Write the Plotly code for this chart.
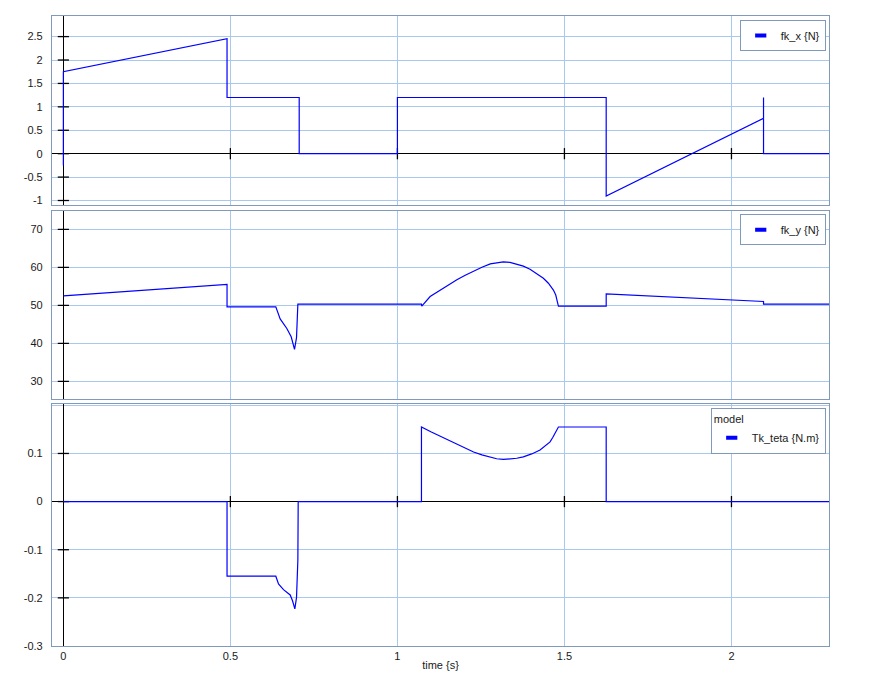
import plotly.graph_objects as go

# ---------------- data ----------------
t_fkx = [0, 0, 0.49, 0.49, 0.706, 0.706, 1.0, 1.0, 1.625, 1.625, 2.096, 2.096, 2.096, 2.3]
v_fkx = [-0.25, 1.75, 2.455, 1.2, 1.2, 0, 0, 1.2, 1.2, -0.905, 0.755, 1.2, 0, 0]

t_fky = [0, 0.49, 0.49, 0.636, 0.649, 0.669, 0.682, 0.692, 0.698, 0.702, 1.072, 1.073,
         1.098, 1.128, 1.153, 1.178, 1.203, 1.228, 1.253, 1.278, 1.297, 1.317, 1.337,
         1.357, 1.377, 1.397, 1.417, 1.437, 1.452, 1.467, 1.474, 1.480, 1.482,
         1.625, 1.625, 2.096, 2.096, 2.3]
v_fky = [52.5, 55.5, 49.6, 49.6, 46.4, 43.9, 41.7, 38.4, 41.5, 50.3, 50.3, 49.8,
         52.3, 54.0, 55.3, 56.7, 57.9, 59.0, 60.0, 60.9, 61.2, 61.4, 61.3,
         60.9, 60.3, 59.5, 58.4, 57.1, 55.8, 54.0, 52.7, 50.9, 49.8,
         49.8, 53.0, 51.0, 50.3, 50.3]

t_tk = [0, 0.49, 0.49, 0.636, 0.644, 0.659, 0.679, 0.686, 0.693, 0.698, 0.702, 0.703,
        1.072, 1.072, 1.100, 1.128, 1.153, 1.178, 1.203, 1.228, 1.253, 1.278, 1.297,
        1.317, 1.337, 1.357, 1.377, 1.402, 1.427, 1.442, 1.457, 1.465, 1.472,
        1.477, 1.482, 1.625, 1.625, 2.3]
v_tk = [0, 0, -0.155, -0.155, -0.171, -0.183, -0.194, -0.206, -0.223, -0.199, -0.122, 0,
        0, 0.155, 0.145, 0.136, 0.127, 0.119, 0.111, 0.103, 0.097, 0.092, 0.089,
        0.0875, 0.088, 0.090, 0.093, 0.099, 0.107, 0.115, 0.124, 0.133, 0.142,
        0.150, 0.155, 0.155, 0, 0]

x_ticks = [0, 0.5, 1, 1.5, 2]
x_ticklabels = ["0", "0.5", "1", "1.5", "2"]
y1_ticks = [-1, -0.5, 0, 0.5, 1, 1.5, 2, 2.5]
y1_labels = ["-1", "-0.5", "0", "0.5", "1", "1.5", "2", "2.5"]
y2_ticks = [30, 40, 50, 60, 70]
y2_labels = ["30", "40", "50", "60", "70"]
y3_ticks = [-0.3, -0.2, -0.1, 0, 0.1, 0.2]
y3_labels = ["-0.3", "-0.2", "-0.1", "0", "0.1", ""]

names = ["fk_x {N}", "fk_y {N}", "Tk_teta {N.m}"]

# ---------------- style ----------------
BLUE = "#0000ff"
GRID = "#a8c8ee"
BORDER = "#8199ba"
FONT = "Liberation Sans, Arial, sans-serif"
TXT = "#1a1a1a"

fig = go.Figure()

# tick marks crossing the zero lines
def tick_marks(xs, ys, xa, ya, sym):
    fig.add_trace(go.Scatter(x=xs, y=ys, mode="markers", xaxis=xa, yaxis=ya,
                             showlegend=False, hoverinfo="skip",
                             marker=dict(symbol=sym, size=8, color="black",
                                         line=dict(width=1.3, color="black"))))

tick_marks([0] * len(y1_ticks), y1_ticks, "x", "y", "line-ew")
tick_marks(x_ticks[1:], [0] * 4, "x", "y", "line-ns")
tick_marks([0] * len(y2_ticks), y2_ticks, "x2", "y2", "line-ew")
tick_marks([0] * 4, y3_ticks[1:], "x3", "y3", "line-ew")
tick_marks(x_ticks[1:], [0] * 4, "x3", "y3", "line-ns")

series = [(t_fkx, v_fkx, "x", "y", "legend"),
          (t_fky, v_fky, "x2", "y2", "legend2"),
          (t_tk, v_tk, "x3", "y3", "legend3")]
for (t, v, xa, ya, lg), nm in zip(series, names):
    fig.add_trace(go.Scatter(x=t, y=v, mode="lines", xaxis=xa, yaxis=ya,
                             line=dict(color=BLUE, width=1.2),
                             name=nm, showlegend=False))
    fig.add_trace(go.Scatter(x=[None], y=[None], mode="markers", xaxis=xa, yaxis=ya,
                             name=nm, legend=lg, showlegend=True,
                             marker=dict(symbol="line-ew", size=8, color=BLUE,
                                         line=dict(width=4, color=BLUE))))

xcommon = dict(range=[-0.034, 2.292], tickvals=x_ticks, ticktext=x_ticklabels,
               showgrid=True, gridcolor=GRID, gridwidth=1,
               zeroline=True, zerolinecolor="black", zerolinewidth=1.3,
               showline=True, linecolor=BORDER, linewidth=1.2, mirror=True,
               ticks="", tickfont=dict(family=FONT, size=11, color=TXT))
ycommon = dict(showgrid=True, gridcolor=GRID, gridwidth=1,
               zeroline=True, zerolinecolor="black", zerolinewidth=1.3,
               showline=True, linecolor=BORDER, linewidth=1.2, mirror=True,
               ticks="", ticklabelstandoff=6,
               tickfont=dict(family=FONT, size=11, color=TXT))

legcommon = dict(xref="paper", yref="paper", xanchor="right", yanchor="top",
                 x=0.9958, bgcolor="white", bordercolor=BORDER, borderwidth=1,
                 font=dict(family=FONT, size=11, color=TXT),
                 itemwidth=30, tracegroupgap=0)

fig.update_layout(
    width=873, height=686,
    margin=dict(l=52, r=44, t=16, b=40),
    paper_bgcolor="white", plot_bgcolor="white",
    font=dict(family=FONT, size=11, color=TXT),
    xaxis=dict(xcommon, anchor="y", matches="x3", showticklabels=False),
    xaxis2=dict(xcommon, anchor="y2", matches="x3", showticklabels=False),
    xaxis3=dict(xcommon, anchor="y3", showticklabels=True,
                title=dict(text="time {s}", standoff=0,
                           font=dict(family=FONT, size=11, color=TXT))),
    yaxis=dict(ycommon, domain=[0.70, 1.0], range=[-1.096, 2.94],
               tickvals=y1_ticks, ticktext=y1_labels),
    yaxis2=dict(ycommon, domain=[0.3916, 0.691], range=[25.26, 74.9],
                tickvals=y2_ticks, ticktext=y2_labels),
    yaxis3=dict(ycommon, domain=[0.0, 0.3841], range=[-0.3, 0.2027],
                tickvals=y3_ticks, ticktext=y3_labels),
    legend=dict(legcommon, y=0.9937),
    legend2=dict(legcommon, y=0.6852),
    legend3=dict(legcommon, y=0.3778,
                 title=dict(text="model", side="top",
                            font=dict(family=FONT, size=11, color=TXT))),
)

fig.write_html("out.html")
